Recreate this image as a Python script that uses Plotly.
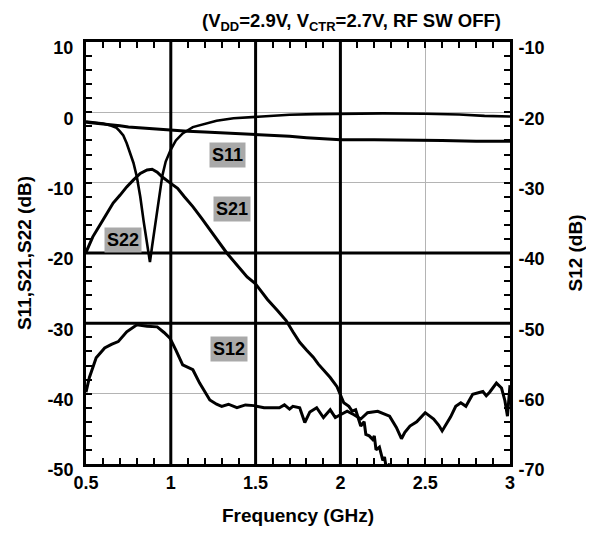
import plotly.graph_objects as go

# ---------------- data ----------------
s11_f = [0.5, 0.55, 0.6, 0.65, 0.7, 0.75, 0.8, 0.85, 0.9, 0.95, 1.0, 1.1, 1.2, 1.3, 1.4,
         1.5, 1.6, 1.7, 1.8, 1.9, 2.0, 2.2, 2.4, 2.6, 2.8, 3.0]
s11_db = [-1.4, -1.5, -1.7, -1.8, -1.9, -2.1, -2.2, -2.3, -2.3, -2.4, -2.6, -2.7, -2.8, -2.9, -3.0,
          -3.1, -3.3, -3.4, -3.6, -3.8, -3.9, -3.9, -3.9, -4.0, -4.1, -4.1]

s22_f = [0.5, 0.55, 0.6, 0.65, 0.68, 0.7, 0.72, 0.74, 0.76, 0.78, 0.80, 0.82, 0.84, 0.86, 0.877,
         0.89, 0.91, 0.93, 0.95, 0.97, 1.0, 1.03, 1.07, 1.13, 1.2, 1.27, 1.37, 1.48, 1.55, 1.7,
         1.85, 2.0, 2.25, 2.5, 2.7, 2.85, 3.0]
s22_db = [-1.3, -1.4, -1.6, -1.9, -2.2, -2.7, -3.3, -4.4, -5.7, -7.2, -9.2, -12.0, -15.5, -19.0, -21.3,
          -19.0, -15.5, -12.0, -9.0, -7.0, -5.3, -4.0, -3.0, -2.1, -1.6, -1.2, -0.85, -0.7, -0.55, -0.35,
          -0.25, -0.2, -0.15, -0.2, -0.3, -0.5, -0.6]

s21_f = [0.5, 0.54, 0.6, 0.66, 0.7, 0.74, 0.78, 0.82, 0.86, 0.89, 0.92, 0.95, 1.0, 1.04, 1.08,
         1.13, 1.18, 1.23, 1.28, 1.33, 1.39, 1.45, 1.5, 1.57, 1.63, 1.68, 1.72, 1.76, 1.80, 1.84,
         1.87, 1.90, 1.94, 1.98, 2.0, 2.02, 2.05, 2.07, 2.09, 2.11, 2.12, 2.14, 2.15, 2.17, 2.19,
         2.2, 2.21, 2.23, 2.25, 2.26, 2.27, 2.29, 2.30]
s21_db = [-19.9, -17.7, -15.3, -12.9, -11.8, -10.6, -9.6, -8.7, -8.2, -8.1, -8.5, -9.2, -10.1, -10.8, -12.0,
          -13.4, -15.0, -16.7, -18.4, -20.0, -21.7, -23.4, -24.4, -26.6, -28.2, -29.6, -31.2, -32.7, -33.8, -34.8,
          -35.8, -36.6, -37.7, -39.0, -40.2, -41.3, -41.8, -42.5, -42.3, -43.8, -44.6, -44.0, -45.8, -46.0, -46.5,
          -46.0, -48.0, -47.6, -49.5, -49.0, -50.5, -50.0, -51.0]

s12_f = [0.50, 0.52, 0.56, 0.61, 0.65, 0.69, 0.74, 0.80, 0.86, 0.92, 0.96, 0.995, 1.03, 1.07, 1.13,
         1.17, 1.23, 1.27, 1.30, 1.34, 1.39, 1.44, 1.49, 1.55, 1.60, 1.64, 1.67, 1.70, 1.72, 1.76,
         1.79, 1.82, 1.86, 1.90, 1.94, 1.97, 2.0, 2.04, 2.08, 2.12, 2.16, 2.22, 2.29, 2.33, 2.36,
         2.38, 2.41, 2.45, 2.50, 2.55, 2.58, 2.60, 2.65, 2.68, 2.71, 2.74, 2.78, 2.81, 2.84, 2.86,
         2.88, 2.92, 2.95, 2.97, 2.985, 3.0]
s12_db = [-59.8, -57.7, -54.9, -53.5, -53.0, -52.6, -51.2, -50.2, -50.4, -50.5, -51.3, -52.1, -53.8, -55.9, -56.6,
          -58.5, -60.9, -61.5, -61.8, -61.5, -62.0, -61.6, -61.7, -62.0, -62.0, -62.0, -61.6, -62.2, -61.8, -62.0,
          -64.1, -62.6, -62.0, -63.4, -62.3, -63.4, -63.0, -62.5, -63.0, -63.6, -62.7, -62.5, -63.2, -64.8, -66.4,
          -65.5, -64.6, -64.0, -62.7, -63.6, -64.5, -65.3, -63.3, -61.8, -61.3, -61.8, -60.1, -59.9, -59.7, -60.3,
          -59.8, -58.5, -59.2, -61.0, -63.2, -58.8]

x_ticks = [0.5, 1, 1.5, 2, 2.5, 3]
left_ticks = [10, 0, -10, -20, -30, -40, -50]
right_ticks = [-10, -20, -30, -40, -50, -60, -70]

marker_freqs = [1.0, 1.5, 2.0]
marker_levels = [-20, -30]

labels = ["S11", "S21", "S22", "S12"]
label_f = [1.337, 1.36, 0.718, 1.343]
label_db = [-6.0, -13.8, -18.2, -33.6]

title_html = "<b>(V<sub>DD</sub>=2.9V, V<sub>CTR</sub>=2.7V, RF SW OFF)</b>"

# ---------------- figure ----------------
FONT = "Liberation Sans, Arial, sans-serif"
fig = go.Figure()

line_style = dict(color="black", width=3)
fig.add_trace(go.Scatter(x=s11_f, y=s11_db, mode="lines", line=line_style, name="S11"))
fig.add_trace(go.Scatter(x=s22_f, y=s22_db, mode="lines", line=dict(color="black", width=2.6), name="S22"))
fig.add_trace(go.Scatter(x=s21_f, y=s21_db, mode="lines", line=line_style, name="S21"))
fig.add_trace(go.Scatter(x=s12_f, y=s12_db, mode="lines", line=line_style, name="S12", yaxis="y2"))

for f in marker_freqs:
    fig.add_shape(type="line", xref="x", yref="paper", x0=f, x1=f, y0=0, y1=1,
                  line=dict(color="black", width=3), layer="above")
for lv in marker_levels:
    fig.add_shape(type="line", xref="paper", yref="y", x0=0, x1=1, y0=lv, y1=lv,
                  line=dict(color="black", width=3), layer="above")

for t, fx, dy in zip(labels, label_f, label_db):
    fig.add_annotation(x=fx, y=dy, xref="x", yref="y", text="<b>" + t + "</b>",
                       showarrow=False, bgcolor="#a9a9a9", borderpad=2,
                       font=dict(family=FONT, size=18, color="black"))

fig.add_annotation(x=0.627, y=1.081, xref="paper", yref="paper", text=title_html,
                   showarrow=False, font=dict(family=FONT, size=18.5, color="black"))

tickfont = dict(family=FONT, size=18, color="black", weight="bold")
titlefont = dict(family=FONT, size=19, color="black", weight="bold")

fig.update_layout(
    width=594, height=534,
    margin=dict(l=78, r=92, t=34, b=78),
    paper_bgcolor="white", plot_bgcolor="white",
    showlegend=False,
    xaxis=dict(range=[0.5, 3], tickvals=x_ticks, ticktext=[str(v) for v in x_ticks],
               showgrid=True, gridcolor="#b4b4b4", gridwidth=1,
               showline=True, linecolor="black", linewidth=3, mirror="ticks",
               ticks="inside", ticklen=6, tickwidth=2, tickcolor="black",
               minor=dict(dtick=0.1, ticks="inside", ticklen=6, tickwidth=2, tickcolor="black", showgrid=False),
               tickfont=tickfont, zeroline=False,
               title=dict(text="Frequency (GHz)", font=titlefont, standoff=18)),
    yaxis=dict(range=[-50, 10], tickvals=left_ticks, ticktext=[str(v) for v in left_ticks],
               showgrid=True, gridcolor="#b4b4b4", gridwidth=1,
               showline=True, linecolor="black", linewidth=3, mirror=False,
               ticks="inside", ticklen=6, tickwidth=2, tickcolor="black",
               minor=dict(dtick=2, ticks="inside", ticklen=6, tickwidth=2, tickcolor="black", showgrid=False),
               tickfont=tickfont, zeroline=False, ticklabelshift=6, ticklabelstandoff=6,
               title=dict(text="S11,S21,S22 (dB)", font=titlefont, standoff=11)),
    yaxis2=dict(range=[-70, -10], overlaying="y", side="right",
                tickvals=right_ticks, ticktext=[str(v) for v in right_ticks],
                showgrid=False, showline=True, linecolor="black", linewidth=3,
                ticks="inside", ticklen=6, tickwidth=2, tickcolor="black",
                minor=dict(dtick=2, ticks="inside", ticklen=6, tickwidth=2, tickcolor="black", showgrid=False),
                tickfont=tickfont, zeroline=False, ticklabelshift=6, ticklabelstandoff=2,
                title=dict(text="S12 (dB)", font=titlefont, standoff=26)),
)

fig.write_html("out.html")
